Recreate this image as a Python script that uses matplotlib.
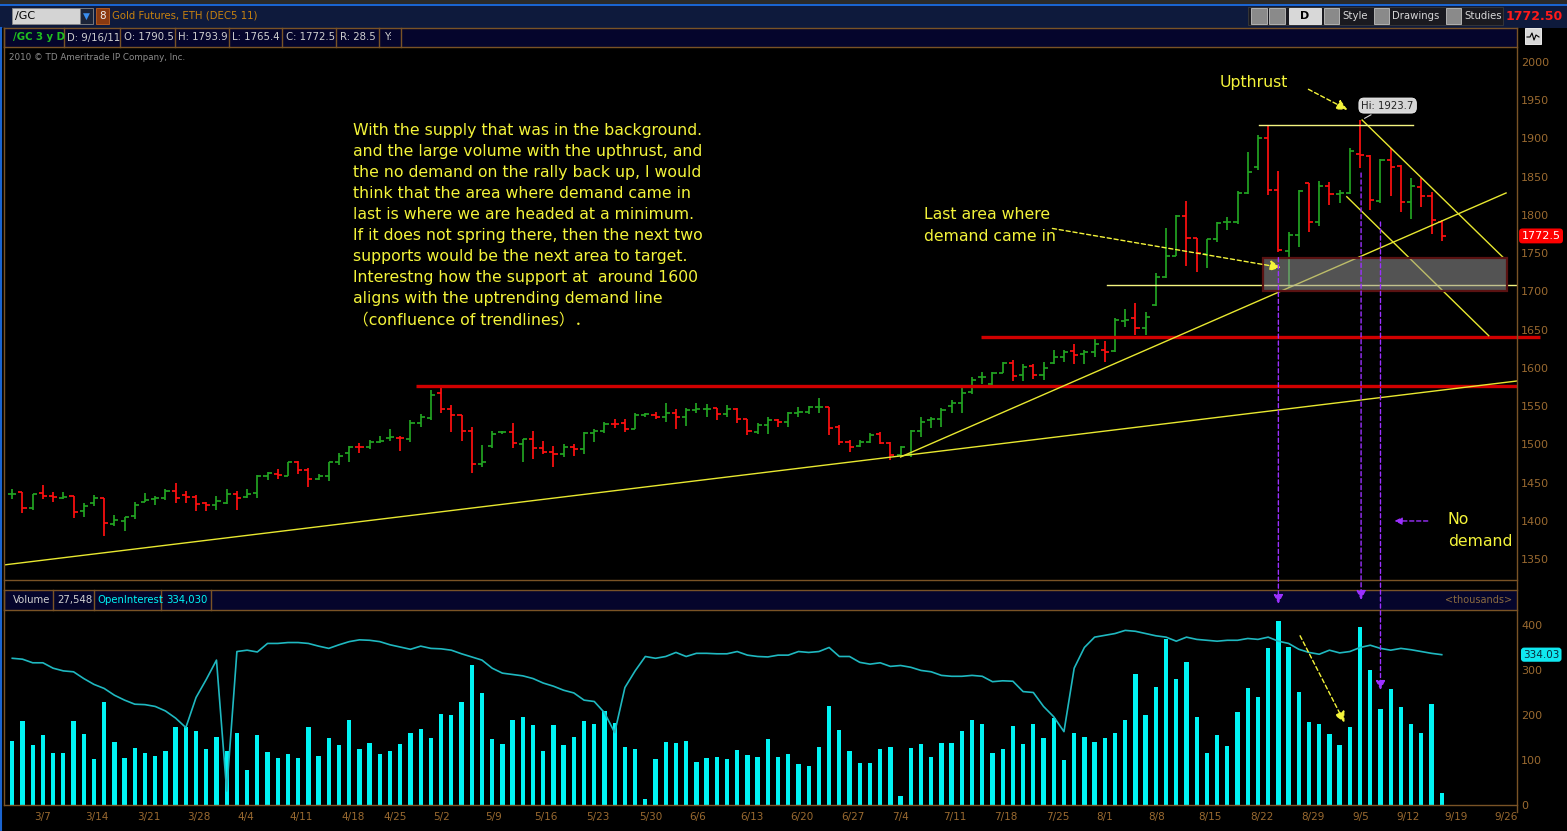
import matplotlib
matplotlib.use("Agg")
import matplotlib.pyplot as plt
from matplotlib.patches import Rectangle, ConnectionPatch, FancyArrowPatch
from matplotlib.lines import Line2D

# ---------------- data ----------------
OPEN = [1434.5, 1437.2, 1416.7, 1435.9, 1432.4, 1430.2, 1432.4, 1412.3, 1423.7, 1429.8,
        1395.8, 1400.1, 1406.2, 1424.1, 1428.0, 1429.8, 1438.5, 1433.3, 1431.5, 1422.8,
        1420.2, 1423.7, 1435.0, 1430.6, 1435.9, 1458.6, 1460.7, 1459.0, 1476.9, 1466.0,
        1454.6, 1458.6, 1476.9, 1489.1, 1496.9, 1496.0, 1503.0, 1508.0, 1508.7, 1507.0,
        1527.4, 1534.0, 1566.7, 1545.8, 1538.3, 1517.4, 1473.8, 1497.4, 1516.1, 1516.5,
        1500.0, 1507.0, 1494.8, 1490.4, 1486.9, 1496.1, 1493.5, 1514.4, 1517.4, 1526.6,
        1527.5, 1520.1, 1538.4, 1538.4, 1536.2, 1541.4, 1535.3, 1545.0, 1545.5, 1547.1,
        1539.7, 1546.8, 1532.7, 1516.6, 1525.3, 1531.8, 1528.8, 1541.4, 1542.7, 1548.4,
        1549.3, 1523.1, 1502.6, 1497.8, 1502.6, 1513.1, 1501.3, 1486.0, 1486.0, 1517.4,
        1531.8, 1532.7, 1550.0, 1554.5, 1568.9, 1587.6, 1578.9, 1593.7, 1606.0, 1590.6,
        1602.8, 1590.6, 1605.8, 1614.5, 1622.0, 1617.6, 1621.1, 1622.8, 1622.0, 1661.0,
        1664.7, 1651.6, 1682.1, 1719.2, 1746.6, 1798.5, 1769.3, 1748.4, 1768.4, 1790.2,
        1791.1, 1828.2, 1863.1, 1901.0, 1832.5, 1752.8, 1773.7, 1841.3, 1791.1, 1838.2,
        1826.9, 1828.2, 1879.2, 1877.4, 1818.2, 1871.8, 1864.4, 1817.3, 1836.9, 1825.1,
        1790.5]
HIGH = [1441.5, 1437.2, 1434.6, 1446.8, 1437.2, 1437.2, 1432.4, 1423.7, 1433.3, 1429.8,
        1407.1, 1405.4, 1424.1, 1435.9, 1432.4, 1441.5, 1449.0, 1438.5, 1433.3, 1425.0,
        1432.4, 1441.5, 1438.9, 1442.0, 1459.4, 1463.3, 1467.7, 1477.3, 1478.6, 1469.0,
        1461.6, 1476.9, 1489.1, 1498.2, 1502.2, 1506.1, 1510.9, 1519.6, 1510.9, 1531.8,
        1540.1, 1571.0, 1577.6, 1551.4, 1538.3, 1522.2, 1498.7, 1517.4, 1517.4, 1527.9,
        1507.0, 1517.4, 1504.4, 1497.8, 1500.0, 1500.0, 1516.1, 1519.6, 1529.6, 1532.7,
        1533.1, 1540.5, 1541.4, 1542.7, 1553.6, 1545.8, 1548.0, 1554.5, 1552.3, 1547.1,
        1551.4, 1547.1, 1532.7, 1527.5, 1535.3, 1533.6, 1542.7, 1549.3, 1550.1, 1560.2,
        1549.3, 1525.3, 1505.7, 1505.7, 1514.4, 1516.1, 1503.5, 1497.8, 1518.7, 1535.3,
        1535.3, 1547.1, 1558.0, 1573.2, 1588.5, 1595.0, 1595.0, 1608.1, 1610.3, 1604.5,
        1604.5, 1608.0, 1623.3, 1623.3, 1630.7, 1623.3, 1637.6, 1635.0, 1664.7, 1676.9,
        1684.3, 1672.5, 1723.5, 1782.4, 1799.8, 1818.2, 1770.2, 1768.4, 1790.2, 1797.7,
        1831.2, 1882.7, 1904.5, 1917.0, 1857.4, 1777.2, 1832.5, 1841.3, 1844.3, 1842.6,
        1832.5, 1887.9, 1923.7, 1878.3, 1873.1, 1887.9, 1865.2, 1847.8, 1848.7, 1829.5,
        1793.9]
LOW = [1428.0, 1410.6, 1413.6, 1428.9, 1424.1, 1428.9, 1403.2, 1404.5, 1419.3, 1380.5,
       1393.1, 1387.0, 1401.9, 1424.1, 1420.2, 1427.2, 1423.7, 1423.7, 1412.3, 1412.3,
       1413.6, 1421.9, 1413.6, 1430.2, 1430.2, 1452.9, 1454.2, 1458.1, 1461.2, 1444.6,
       1452.9, 1452.4, 1472.9, 1476.9, 1488.2, 1493.9, 1501.7, 1503.9, 1491.7, 1503.5,
       1523.1, 1531.8, 1540.5, 1516.5, 1504.8, 1462.9, 1470.8, 1495.2, 1513.5, 1495.6,
       1477.3, 1481.2, 1487.4, 1470.8, 1483.9, 1485.2, 1486.9, 1503.5, 1514.4, 1520.9,
       1515.7, 1519.6, 1535.3, 1532.7, 1529.2, 1520.1, 1524.4, 1540.5, 1536.2, 1531.8,
       1536.2, 1527.5, 1511.8, 1513.5, 1513.5, 1522.2, 1523.1, 1535.3, 1539.7, 1540.5,
       1511.8, 1499.1, 1490.4, 1496.1, 1502.2, 1500.4, 1479.5, 1486.0, 1483.9, 1510.0,
       1520.9, 1523.1, 1540.5, 1540.5, 1565.4, 1578.9, 1577.6, 1593.7, 1582.4, 1582.7,
       1584.9, 1584.0, 1604.5, 1608.0, 1604.5, 1604.5, 1614.5, 1608.0, 1621.1, 1653.8,
       1642.9, 1642.9, 1681.2, 1717.9, 1746.6, 1733.6, 1725.7, 1731.0, 1764.1, 1780.2,
       1787.6, 1826.9, 1858.7, 1826.0, 1751.0, 1704.0, 1758.4, 1778.0, 1785.9, 1812.9,
       1815.1, 1826.9, 1861.8, 1806.4, 1815.1, 1825.1, 1803.3, 1794.6, 1810.7, 1774.6,
       1765.4]
CLOSE = [1435.5, 1416.7, 1434.6, 1432.4, 1431.1, 1431.1, 1411.0, 1419.8, 1430.2, 1396.6,
         1401.0, 1405.4, 1420.6, 1427.2, 1429.8, 1438.5, 1430.2, 1430.6, 1421.9, 1420.2,
         1425.9, 1435.0, 1429.8, 1435.4, 1458.6, 1462.0, 1459.4, 1476.9, 1466.0, 1454.6,
         1458.6, 1476.9, 1484.7, 1496.9, 1496.0, 1503.0, 1503.9, 1510.0, 1507.8, 1527.4,
         1536.2, 1564.5, 1545.8, 1538.3, 1517.4, 1473.8, 1476.9, 1513.5, 1516.6, 1502.2,
         1507.0, 1494.8, 1490.0, 1486.9, 1497.0, 1493.5, 1515.3, 1517.9, 1526.2, 1526.2,
         1520.1, 1538.4, 1539.7, 1536.2, 1541.4, 1535.3, 1544.9, 1545.5, 1546.0, 1539.7,
         1546.8, 1532.7, 1517.4, 1525.3, 1531.8, 1529.6, 1541.4, 1542.0, 1549.3, 1549.0,
         1520.9, 1502.6, 1497.0, 1502.6, 1512.2, 1501.3, 1486.0, 1497.0, 1517.4, 1529.6,
         1532.7, 1544.9, 1554.5, 1567.6, 1584.1, 1588.0, 1593.7, 1606.8, 1589.4, 1601.5,
         1590.6, 1600.2, 1614.5, 1621.1, 1616.7, 1620.2, 1630.7, 1621.1, 1662.5, 1663.0,
         1651.6, 1666.9, 1719.2, 1746.6, 1798.5, 1770.2, 1749.7, 1768.4, 1788.9, 1791.1,
         1828.2, 1856.5, 1901.0, 1832.5, 1754.1, 1773.7, 1831.2, 1791.1, 1838.2, 1826.9,
         1828.2, 1883.6, 1878.3, 1819.5, 1871.8, 1863.1, 1817.3, 1838.2, 1825.1, 1793.3,
         1772.5]
VOLUME = [142, 187, 133, 156, 116, 116, 187, 157, 102, 229,
          140, 104, 127, 116, 109, 120, 173, 173, 164, 124,
          151, 120, 160, 78, 156, 118, 104, 113, 104, 173,
          109, 149, 133, 189, 124, 138, 113, 120, 136, 160,
          169, 149, 202, 200, 229, 311, 249, 147, 136, 189,
          196, 178, 120, 178, 133, 151, 187, 180, 209, 182,
          129, 124, 13, 102, 140, 138, 142, 96, 104, 107,
          102, 122, 111, 107, 147, 107, 113, 91, 87, 129,
          220, 167, 120, 93, 93, 124, 129, 20, 127, 136,
          107, 138, 138, 164, 189, 180, 116, 124, 176, 136,
          180, 149, 193, 100, 160, 151, 140, 149, 160, 189,
          291, 200, 262, 369, 280, 318, 196, 116, 156, 131,
          207, 260, 240, 349, 409, 351, 251, 184, 180, 158,
          133, 173, 396, 300, 213, 258, 218, 180, 160, 224,
          27.548]
OPEN_INTEREST = [326, 324, 316, 316, 304, 298, 296, 281, 268, 259,
                 244, 233, 224, 223, 219, 209, 193, 172, 239, 279,
                 322, 31, 341, 344, 340, 359, 359, 361, 361, 359,
                 353, 348, 356, 363, 367, 366, 363, 356, 351, 346,
                 353, 348, 347, 344, 336, 329, 322, 304, 293, 290,
                 287, 281, 271, 264, 255, 249, 233, 230, 205, 161,
                 261, 298, 330, 326, 330, 339, 330, 337, 337, 336,
                 336, 341, 333, 330, 329, 333, 333, 341, 339, 341,
                 350, 330, 330, 317, 313, 316, 308, 310, 306, 299,
                 296, 288, 286, 286, 288, 286, 274, 276, 275, 252,
                 250, 219, 196, 163, 304, 350, 373, 377, 381, 388,
                 386, 381, 376, 373, 364, 373, 368, 366, 364, 366,
                 366, 370, 368, 373, 364, 359, 346, 339, 335, 344,
                 338, 341, 350, 355, 348, 344, 348, 345, 341, 337,
                 334.03]
DATE_LABELS = ["3/7", "3/14", "3/21", "3/28", "4/4", "4/11", "4/18", "4/25", "5/2", "5/9",
               "5/16", "5/23", "5/30", "6/6", "6/13", "6/20", "6/27", "7/4", "7/11", "7/18",
               "7/25", "8/1", "8/8", "8/15", "8/22", "8/29", "9/5", "9/12", "9/19", "9/26"]
DATE_POS = [3.0, 8.3, 13.4, 18.3, 22.9, 28.3, 33.4, 37.5, 42.0, 47.1,
            52.3, 57.4, 62.5, 67.1, 72.4, 77.3, 82.3, 87.0, 92.3, 97.3,
            102.4, 107.0, 112.1, 117.3, 122.4, 127.4, 132.1, 136.7, 141.4, 146.3]
PRICE_TICKS = [1350, 1400, 1450, 1500, 1550, 1600, 1650, 1700, 1750, 1800, 1850, 1900, 1950, 2000]
VOLUME_TICKS = [0, 100, 200, 300, 400]

# drawn studies: (x0, price0, x1, price1)
TRENDLINES = [(-0.81, 1342.2, 147.37, 1582.8),
              (87.0, 1483.4, 146.3, 1828.7),
              (132.2, 1924.1, 146.0, 1744.6),
              (130.7, 1823.8, 144.6, 1642.0)]
RED_SUPPORTS = [(39.5, 147.37, 1576.0), (94.9, 149.6, 1640.3)]
PALE_LEVELS = [(122.1, 137.2, 1917.2), (107.2, 147.37, 1707.9)]
DEMAND_ZONE = (122.5, 146.4, 1700.5, 1744.1)

NOTE_LINES = ["With the supply that was in the background.",
              "and the large volume with the upthrust, and",
              "the no demand on the rally back up, I would",
              "think that the area where demand came in",
              "last is where we are headed at a minimum.",
              "If it does not spring there, then the next two",
              "supports would be the next area to target.",
              "Interestng how the support at  around 1600",
              "aligns with the uptrending demand line",
              "（confluence of trendlines）．"]

# ---------------- figure helpers (pixel layout) ----------------
W, H = 1567, 831
fig = plt.figure(figsize=(W / 100, H / 100), dpi=100)
fig.patch.set_facecolor("black")
BROWN = "#7a5326"
AXLBL = "#9a6a30"
YEL = "#f4f43a"
PURPLE = "#9b30ff"
CYAN = "#00f5f5"
NOTE_FS = 11.3


def fr(x0, y0, x1, y1):
    return [x0 / W, 1 - y1 / H, (x1 - x0) / W, (y1 - y0) / H]


def prect(x0, y0, x1, y1, fc, ec="none", lw=0.0, z=1):
    fig.add_artist(Rectangle((x0 / W, 1 - y1 / H), (x1 - x0) / W, (y1 - y0) / H,
                             transform=fig.transFigure, facecolor=fc, edgecolor=ec,
                             linewidth=lw, zorder=z))


def pline(x0, y0, x1, y1, color=BROWN, lw=1.0, z=3):
    fig.add_artist(Line2D([x0 / W, x1 / W], [1 - y0 / H, 1 - y1 / H],
                          transform=fig.transFigure, color=color, lw=lw, zorder=z))


def ppoly(xs, ys, color="black", lw=0.8, z=4):
    fig.add_artist(Line2D([x / W for x in xs], [1 - y / H for y in ys],
                          transform=fig.transFigure, color=color, lw=lw, zorder=z))


def ptext(x, y, s, **kw):
    kw.setdefault("va", "center")
    kw.setdefault("fontsize", 7.2)
    fig.text(x / W, 1 - y / H, s, **kw)


# ---------------- window chrome ----------------
prect(0, 0, W, 4, "#2a2a2a")
prect(0, 4, W, 6, "#1a64d0")
prect(0, 6, W, 28, "#0e1a3c")
prect(12, 8, 80, 24, "#d4d4d4", ec="#888888", lw=0.6)
ptext(15, 16, "/GC", color="black", fontsize=8)
prect(80, 8, 93, 24, "#1c2438", ec="#888888", lw=0.6)
ptext(86.5, 16.5, "▼", color="#3a8ef0", fontsize=6.5, ha="center")
prect(96, 8, 109, 24, "#8b3a10", ec="#c06020", lw=0.6)
ptext(102.5, 16, "8", color="#f0f0f0", fontsize=7.5, ha="center")
ptext(112, 16, "Gold Futures, ETH (DEC5 11)", color="#c8820f", fontsize=7.3)

# toolbar on the right of the title bar
prect(1248, 7, 1503, 25, "#1a1a20", ec="#3a3a3a", lw=0.6)
for bx in (1251, 1269):
    prect(bx, 8, bx + 16, 24, "#8a8a8a", ec="#c0c0c0", lw=0.6)
prect(1289, 8, 1321, 24, "#d8d8d8", ec="#f0f0f0", lw=0.6)
ptext(1305, 16, "D", color="black", fontsize=8, ha="center", fontweight="bold")
for bx, label in ((1324, "Style"), (1374, "Drawings"), (1446, "Studies")):
    prect(bx, 8, bx + 15, 24, "#8a8a8a", ec="#c0c0c0", lw=0.6)
    ptext(bx + 18, 16, label, color="#d8d8d8", fontsize=7.3)
ptext(1563, 16, "1772.50", color="#ff1a1a", fontsize=9, ha="right", fontweight="bold")

# info row
prect(4, 28, 1517, 47, "#05052c")
pline(4, 28, 1517, 28)
pline(4, 47, 1517, 47)
for sx in (4, 64, 120, 175, 229, 282, 336, 379, 401):
    pline(sx, 28, sx, 47)
ptext(13, 37.5, "/GC 3 y D", color="#20c020", fontsize=7.3, fontweight="bold")
for sx, s in ((67, "D: 9/16/11"), (124, "O: 1790.5"), (178, "H: 1793.9"), (232, "L: 1765.4"),
              (286, "C: 1772.5"), (340, "R: 28.5"), (385, "Y:")):
    ptext(sx, 37.5, s, color="#d0d0d0", fontsize=7.3)
ptext(9, 57, "2010 © TD Ameritrade IP Company, Inc.", color="#8c8c8c", fontsize=6.3)
prect(1525, 28, 1541, 44, "#d8d8d8", ec="#ffffff", lw=0.6)
ppoly([1527, 1530, 1532, 1534, 1536, 1539], [37, 37, 33, 40, 35, 37])

# volume header row
prect(4, 590, 1517, 610, "#05052c")
pline(4, 590, 1517, 590)
pline(4, 610, 1517, 610)
for sx in (4, 53, 94, 161, 211):
    pline(sx, 590, sx, 610)
ptext(13, 600, "Volume", color="#d0d0d0", fontsize=7.3)
ptext(57, 600, "27,548", color="#d0d0d0", fontsize=7.3)
ptext(97, 600, "OpenInterest", color=CYAN, fontsize=7.3)
ptext(166, 600, "334,030", color=CYAN, fontsize=7.3)
ptext(1512, 600, "<thousands>", color="#8a6a40", fontsize=7, ha="right")

# frame lines
pline(1, 28, 1, H, color="#1a64d0", lw=1.5)
pline(4, 28, 4, 805)
pline(1517, 28, 1517, 812)
pline(4, 580, 1517, 580)
pline(4, 805, 1517, 805)

# ---------------- price panel ----------------
ax = fig.add_axes(fr(4, 47, 1517, 580))
ax.set_facecolor("black")
ax.set_xlim(-0.81, 147.37)
ax.set_ylim(1322.5, 2019.6)
for sp in ax.spines.values():
    sp.set_visible(False)
ax.set_xticks([])
ax.yaxis.tick_right()
ax.set_yticks(PRICE_TICKS)
ax.set_yticklabels([str(v) for v in PRICE_TICKS])
ax.tick_params(axis="y", length=0, pad=3, labelsize=8, labelcolor=AXLBL)

idx = list(range(len(CLOSE)))
cols = ["#22a322" if c >= o else "#ff1010" for o, c in zip(OPEN, CLOSE)]
ax.vlines(idx, LOW, HIGH, colors=cols, lw=1.25, zorder=3)
ax.hlines(OPEN, [i - 0.4 for i in idx], idx, colors=cols, lw=1.25, zorder=3)
ax.hlines(CLOSE, idx, [i + 0.4 for i in idx], colors=cols, lw=1.25, zorder=3)

for x0, x1, lvl in RED_SUPPORTS:
    ax.plot([x0, x1], [lvl, lvl], color="#d00000", lw=2.4, zorder=4,
            solid_capstyle="butt", clip_on=False)
for x0, p0, x1, p1 in TRENDLINES:
    ax.plot([x0, x1], [p0, p1], color="#e8e830", lw=1.0, zorder=5)
for x0, x1, lvl in PALE_LEVELS:
    ax.plot([x0, x1], [lvl, lvl], color="#f4f480", lw=1.0, zorder=5)
zx0, zx1, zp0, zp1 = DEMAND_ZONE
ax.add_patch(Rectangle((zx0, zp0), zx1 - zx0, zp1 - zp0, facecolor=(0.6, 0.6, 0.6, 0.55),
                       edgecolor="#5a1212", lw=1.6, zorder=6))

# annotations
note_x, note_p0, note_step = 33.4, 1909.8, 27.4
for k, line in enumerate(NOTE_LINES):
    ax.text(note_x, note_p0 - k * note_step, line, color=YEL, fontsize=NOTE_FS,
            va="center", ha="left", family=["DejaVu Sans", "Noto Sans CJK JP"], zorder=8)
ax.text(118.2, 1973.8, "Upthrust", color=YEL, fontsize=NOTE_FS, va="center", zorder=8)
ax.text(89.3, 1799.9, "Last area where", color=YEL, fontsize=NOTE_FS, va="center", zorder=8)
ax.text(89.3, 1772.4, "demand came in", color=YEL, fontsize=NOTE_FS, va="center", zorder=8)
ax.text(140.6, 1401.0, "No", color=YEL, fontsize=NOTE_FS, va="center", zorder=8)
ax.text(140.6, 1373.5, "demand", color=YEL, fontsize=NOTE_FS, va="center", zorder=8)

for (a, b) in (((126.7, 1966.0), (131.0, 1935.9)), ((101.6, 1782.9), (124.5, 1730.6))):
    ax.add_patch(FancyArrowPatch(a, b, arrowstyle="-|>", mutation_scale=16,
                                 color=YEL, lw=1.0, linestyle=(0, (3, 2)), zorder=9))
ax.add_patch(FancyArrowPatch((138.9, 1399.7), (135.1, 1399.7), arrowstyle="-|>",
                             mutation_scale=11, color=PURPLE, lw=1.0,
                             linestyle=(0, (3, 2)), zorder=9))

ax.annotate("Hi: 1923.7", xy=(132.2, 1924.5), xytext=(134.7, 1943.0),
            color="#202020", fontsize=7.3, ha="center", va="center", zorder=10,
            bbox=dict(boxstyle="round,pad=0.25,rounding_size=0.5", fc="#d6d6d6", ec="#f0f0f0", lw=0.6),
            arrowprops=dict(arrowstyle="-", color="#d6d6d6", lw=0.8))
ax.text(1.003, CLOSE[-1], "1772.5", transform=ax.get_yaxis_transform(), color="white",
        fontsize=8, ha="left", va="center", zorder=10,
        bbox=dict(boxstyle="round,pad=0.22,rounding_size=0.3", fc="#ff0000", ec="none"))

# ---------------- volume panel ----------------
vax = fig.add_axes(fr(4, 610, 1517, 805))
vax.set_facecolor("black")
vax.set_xlim(-0.81, 147.37)
vax.set_ylim(0, 433.3)
for sp in vax.spines.values():
    sp.set_visible(False)
vax.bar(idx, VOLUME, width=0.42, color=CYAN, zorder=2)
vax.plot(idx, OPEN_INTEREST, color="#1fb8c0", lw=1.2, zorder=3)
vax.yaxis.tick_right()
vax.set_yticks(VOLUME_TICKS)
vax.set_yticklabels([str(v) for v in VOLUME_TICKS])
vax.tick_params(axis="y", length=0, pad=3, labelsize=8, labelcolor=AXLBL)
vax.set_xticks(DATE_POS)
vax.set_xticklabels(DATE_LABELS)
vax.tick_params(axis="x", length=0, pad=5, labelsize=7.5, labelcolor=AXLBL)
vax.text(1.004, OPEN_INTEREST[-1], f"{OPEN_INTEREST[-1]:.2f}", transform=vax.get_yaxis_transform(),
         color="#0a2a3a", fontsize=7.5, ha="left", va="center", zorder=10,
         bbox=dict(boxstyle="round,pad=0.2,rounding_size=0.3", fc="#10e8f0", ec="none"))
vax.add_patch(FancyArrowPatch((126.0, 381.6), (130.6, 177.8), arrowstyle="-|>", mutation_scale=16,
                              color=YEL, lw=1.0, linestyle=(0, (3, 2)), zorder=9))

# purple dashed arrows running from the price panel down to the volume panel
for xa, pa, va_ in ((124.0, 1744.1, 446.7), (132.1, 1854.8, 455.6), (134.0, 1790.7, 255.6)):
    con = ConnectionPatch(xyA=(xa, pa), coordsA=ax.transData, xyB=(xa, va_), coordsB=vax.transData,
                          arrowstyle="-|>", mutation_scale=14, color=PURPLE, lw=1.0,
                          linestyle=(0, (3, 2)), zorder=12)
    fig.add_artist(con)

fig.savefig("out.png", dpi=100, facecolor="black")
